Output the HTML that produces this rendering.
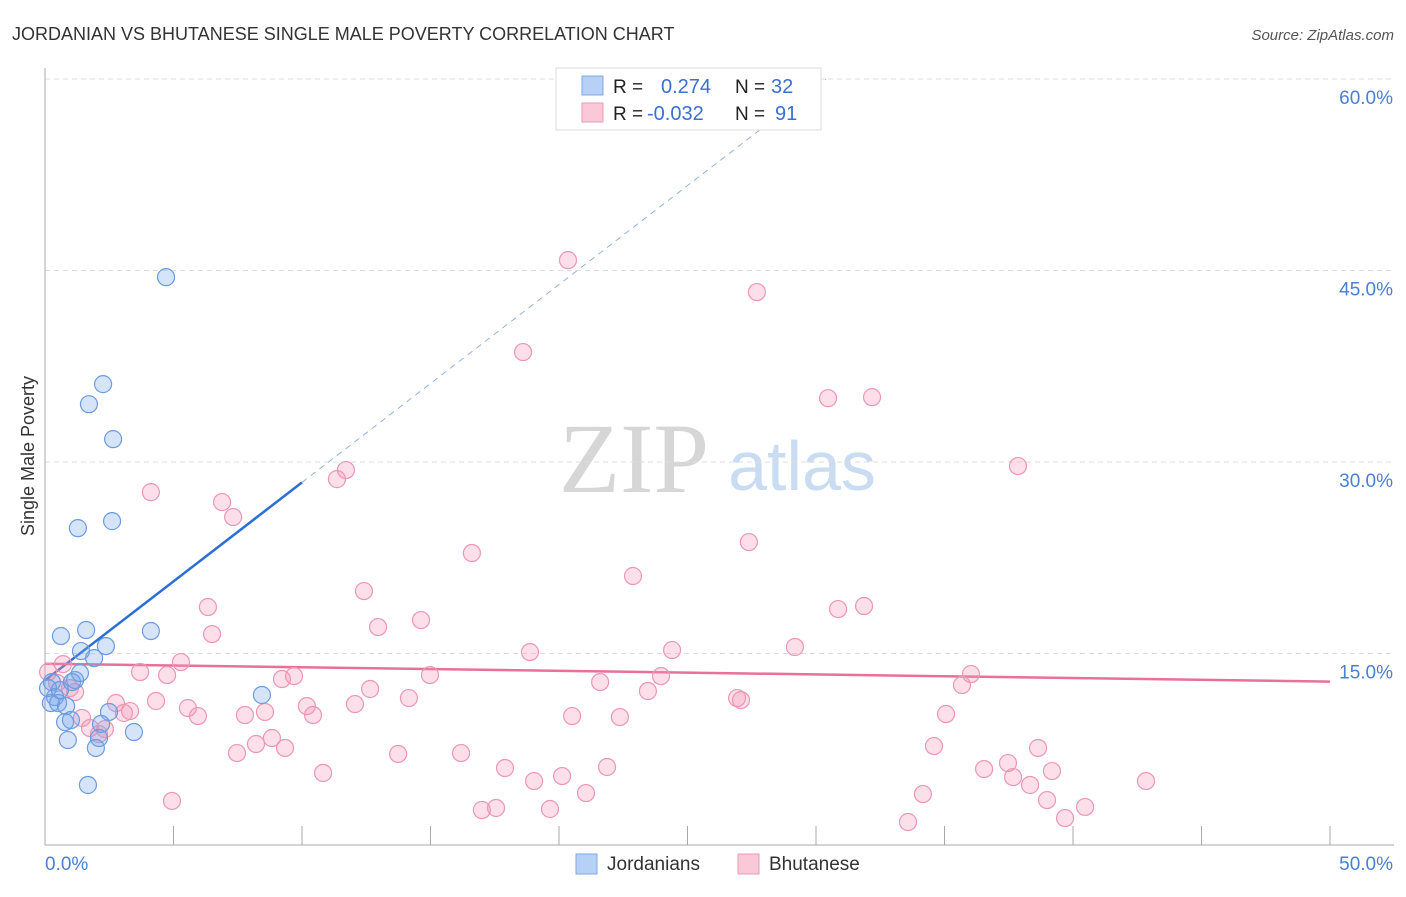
<!DOCTYPE html>
<html><head><meta charset="utf-8"><style>
body{margin:0;background:#fff;font-family:"Liberation Sans",sans-serif}
svg text{font-family:"Liberation Sans",sans-serif}
</style></head><body>
<svg id="chart" width="1406" height="892">
<text x="12" y="40" font-size="18" fill="#333">JORDANIAN VS BHUTANESE SINGLE MALE POVERTY CORRELATION CHART</text>
<text x="1394" y="40" font-size="15" fill="#555" font-style="italic" text-anchor="end">Source: ZipAtlas.com</text>
<text transform="translate(34,456) rotate(-90)" font-size="18" fill="#333" text-anchor="middle">Single Male Poverty</text>
<g><text x="634" y="492" font-size="100" style="font-family:'Liberation Serif',serif" fill="#d6d6d6" text-anchor="middle">ZIP</text><text x="802" y="490" font-size="70" fill="#c9dcf2" text-anchor="middle">atlas</text></g>
<g id="grid"></g><g id="axes"></g><g id="lines"></g><g id="pts"></g>
<g>
<rect x="556" y="68" width="265" height="62" fill="#fff" stroke="#ddd"/>
<rect x="582" y="76" width="21" height="19" fill="#b7d0f5" stroke="#7ea8e6"/>
<rect x="582" y="103" width="21" height="19" fill="#fbc8d8" stroke="#ec9ab4"/>
<text x="613" y="93" font-size="19" fill="#222">R =</text><text x="661" y="93" font-size="20" fill="#3b6fd0">0.274</text>
<text x="735" y="93" font-size="19" fill="#222">N =</text><text x="771" y="93" font-size="20" fill="#3b6fd0">32</text>
<text x="613" y="120" font-size="19" fill="#222">R =</text><text x="647" y="120" font-size="20" fill="#3b6fd0">-0.032</text>
<text x="735" y="120" font-size="19" fill="#222">N =</text><text x="775" y="120" font-size="20" fill="#3b6fd0">91</text>
</g>
<g>
<rect x="576" y="854" width="21" height="20" fill="#b7d0f5" stroke="#7ea8e6"/><text x="607" y="870" font-size="19" fill="#333">Jordanians</text>
<rect x="738" y="854" width="21" height="20" fill="#fbc8d8" stroke="#ec9ab4"/><text x="769" y="870" font-size="19" fill="#333">Bhutanese</text>
</g>
</svg>
<script>
const xTickLabels=["0.0%","50.0%"];
const yTicks=[15,30,45,60];
const yTickLabels=["15.0%","30.0%","45.0%","60.0%"];
const jordX=[4.71,2.26,1.71,2.65,1.28,2.61,0.62,1.60,4.12,1.40,2.37,1.91,0.27,1.17,1.36,0.39,0.23,0.51,0.82,2.49,0.78,1.01,2.18,0.89,2.10,1.98,3.46,1.67,8.44,0.12,0.58,1.05];
const jordY=[44.48,36.10,34.53,31.79,24.82,25.37,16.37,16.84,16.76,15.19,15.58,14.64,12.76,12.92,13.47,11.59,11.12,11.12,10.88,10.42,9.63,9.79,9.48,8.22,8.38,7.60,8.85,4.70,11.75,12.29,12.14,12.76];
const bhuX=[20.35,27.70,18.60,30.47,32.18,37.86,11.71,11.36,4.12,6.89,7.32,16.61,27.39,22.88,12.41,6.34,30.86,31.87,14.63,6.50,12.96,18.87,24.40,29.18,5.29,3.70,4.75,9.22,9.69,14.98,23.97,36.03,21.60,12.65,35.68,23.46,14.16,4.32,2.76,26.93,27.08,5.56,10.19,12.06,3.31,5.95,10.43,3.07,7.78,8.56,20.51,22.37,35.06,1.44,1.75,2.33,8.83,2.10,8.21,9.34,7.47,13.74,16.19,34.59,38.64,10.82,17.90,21.87,20.12,19.03,36.54,37.47,39.18,37.67,38.33,42.84,21.05,4.94,34.16,38.99,17.55,17.00,19.65,40.47,33.58,39.69,0.97,1.17,0.47,0.12,0.70];
const bhuY=[45.81,43.31,38.61,35.00,35.08,29.68,29.37,28.66,27.64,26.86,25.69,22.87,23.73,21.07,19.89,18.64,18.48,18.72,17.62,16.52,17.07,15.11,15.27,15.51,14.33,13.55,13.31,13.00,13.23,13.31,13.23,13.39,12.76,12.22,12.53,12.06,11.51,11.28,11.12,11.51,11.35,10.73,10.88,11.04,10.49,10.10,10.18,10.34,10.18,10.42,10.10,10.02,10.26,9.95,9.16,9.08,8.38,8.69,7.91,7.60,7.20,7.13,7.20,7.75,7.60,5.64,6.03,6.11,5.40,5.01,5.95,6.42,5.79,5.32,4.70,5.01,4.07,3.45,3.99,3.52,2.90,2.74,2.82,2.98,1.80,2.11,12.29,11.98,12.69,13.55,14.17];
const jordTrend=[12.9,1.55];
const bhuTrend=[14.2,-0.028];
const X0=45,X1=1330,Y0=845,Y1=79;
const sx=v=>X0+(X1-X0)*v/50;
const sy=v=>Y0-(Y0-Y1)*v/60;
const NS="http://www.w3.org/2000/svg";
function mk(p,t,a){const e=document.createElementNS(NS,t);for(const k in a)e.setAttribute(k,a[k]);p.appendChild(e);return e;}
const grid=document.getElementById('grid'),axes=document.getElementById('axes'),lines=document.getElementById('lines'),pts=document.getElementById('pts');
yTicks.forEach((t,i)=>{
 const l=mk(grid,'line',{x1:X0,x2:1394,y1:sy(t),y2:sy(t),stroke:'#ddd','stroke-dasharray':'5,4'});
 
 
 const tx=mk(axes,'text',{x:1393,y:sy(t)+25,'font-size':19,fill:'#4a7fd4','text-anchor':'end'});tx.textContent=yTickLabels[i];
 
 
});
mk(axes,'line',{x1:X0,x2:X0,y1:68,y2:Y0,stroke:'#aaa'});
mk(axes,'line',{x1:X0,x2:1394,y1:Y0,y2:Y0,stroke:'#aaa'});
for(let v=5;v<=50;v+=5){mk(axes,'line',{x1:sx(v),x2:sx(v),y1:Y0-19,y2:Y0,stroke:'#aaa'});}
[[0,'start',X0],[50,'end',1393]].forEach((d,i)=>{const t=mk(axes,'text',{x:d[2],y:870,'font-size':19,fill:'#4a7fd4','text-anchor':d[1]});t.textContent=xTickLabels[i];
 
 });
const jl=mk(lines,'line',{x1:sx(0),y1:sy(jordTrend[0]),x2:sx(10),y2:sy(jordTrend[0]+jordTrend[1]*10),stroke:'#2b6fd6','stroke-width':2.5});


const xe=(60-jordTrend[0])/jordTrend[1];
const jd=mk(lines,'line',{x1:sx(10),y1:sy(jordTrend[0]+jordTrend[1]*10),x2:sx(xe),y2:sy(60),stroke:'#8fb2e6','stroke-width':1,'stroke-dasharray':'6,5'});


const bl=mk(lines,'line',{x1:sx(0),y1:sy(bhuTrend[0]),x2:sx(50),y2:sy(bhuTrend[0]+bhuTrend[1]*50),stroke:'#e8709a','stroke-width':2.5});


bhuX.forEach((v,i)=>{const c=mk(pts,'circle',{cx:sx(v),cy:sy(bhuY[i]),r:8.5,fill:'rgba(244,150,180,0.3)',stroke:'#eb97b3','stroke-width':1.2});
 
 });
jordX.forEach((v,i)=>{const c=mk(pts,'circle',{cx:sx(v),cy:sy(jordY[i]),r:8.5,fill:'rgba(120,165,235,0.3)',stroke:'#6b9be0','stroke-width':1.2});
 
 });
</script>
</body></html>
